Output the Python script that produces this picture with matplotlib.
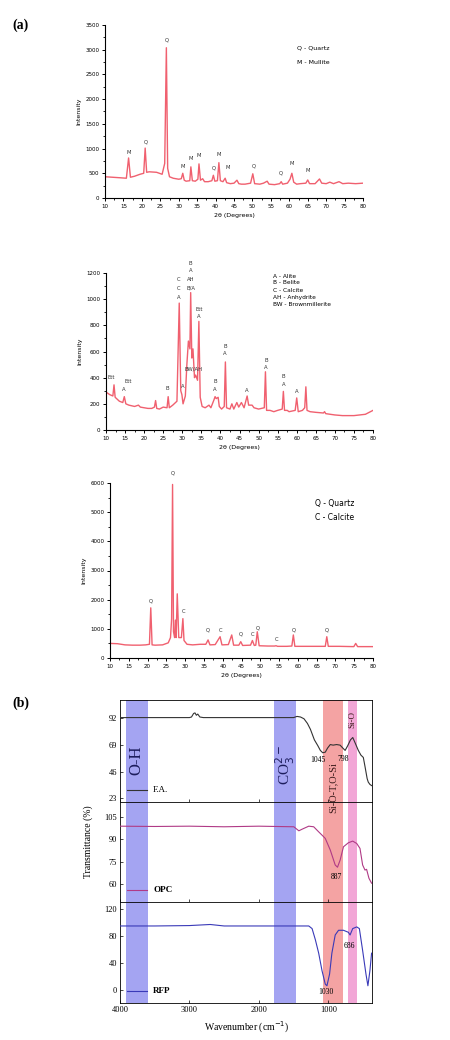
import matplotlib
matplotlib.use("Agg")
import matplotlib.pyplot as plt
from matplotlib.ticker import MultipleLocator, AutoMinorLocator

W, H = 450, 1040
fig = plt.figure(figsize=(W / 100, H / 100), dpi=100)

def rect(l, r, t, b):
    return [l / W, 1 - b / H, (r - l) / W, (b - t) / H]

def fpos(x, y):
    return x / W, 1 - y / H

RED = "#f0606f"

# ---------------- XRD data (2theta, intensity) ----------------
fa_2t = [10, 12, 14, 15.8, 16.4, 16.9, 18, 19.5, 20.5, 20.9, 21.3, 22, 24, 25.5, 26.2, 26.65, 27.0,
         27.5, 28.5, 30, 30.7, 31.1, 31.5, 32, 33, 33.3, 33.7, 34.5, 35.2, 35.5, 35.9, 36.5, 37, 38,
         39, 39.4, 39.8, 40.5, 40.9, 41.3, 42, 42.6, 43, 44, 45, 45.8, 46.3, 47, 48, 49.5, 50.1, 50.6,
         52, 53, 54, 54.5, 56, 57.4, 57.8, 58.2, 59.5, 60.2, 60.7, 61.2, 62, 63, 64.5, 65, 65.5, 67,
         68.2, 68.8, 70, 71, 72, 73.5, 74.5, 76, 78, 80]
fa_int = [430, 420, 410, 400, 810, 420, 440, 480, 500, 1010, 520, 530, 520, 480, 700, 3040, 600,
          430, 400, 380, 390, 500, 360, 340, 350, 630, 350, 340, 380, 690, 360, 390, 330, 330,
          350, 460, 340, 350, 715, 350, 330, 400, 310, 290, 300, 360, 290, 280, 280, 300, 490, 290,
          280, 300, 340, 280, 270, 290, 330, 280, 300, 380, 500, 320, 280, 290, 300, 365, 290, 290,
          385, 300, 290, 320, 290, 330, 290, 300, 290, 300]
fa_lab_2t = [16.4, 21.0, 26.65, 31.1, 33.3, 35.5, 39.4, 40.9, 43.3, 50.4, 57.8, 60.7, 65.0]
fa_lab_y = [930, 1130, 3200, 630, 790, 850, 610, 870, 610, 650, 510, 690, 550]
fa_lab_txt = ["M", "Q", "Q", "M", "M", "M", "Q", "M", "M", "Q", "Q", "M", "M"]

opc_2t = [10, 11, 11.8, 12.1, 12.4, 13.5, 14.4, 14.8, 15.2, 16, 17.5, 18.5, 19, 20, 21, 22, 22.7,
          23.0, 23.3, 24, 25, 26.0, 26.3, 26.6, 27.5, 28.6, 29.2, 29.6, 29.9, 30.2, 30.8, 31.2,
          31.6, 32.0, 32.2, 32.5, 32.8, 33.2, 33.5, 34.0, 34.35, 34.7, 35.2, 36, 37, 37.5, 38.3,
          38.6, 38.9, 39.4, 39.7, 40.3, 41.0, 41.3, 41.6, 42.5, 43, 43.5, 44.3, 44.8, 45.5, 46.2,
          47.0, 47.4, 48.3, 48.8, 50, 51.5, 51.8, 52.1, 53, 54, 55, 56.2, 56.5, 56.8, 57.5, 58,
          59.6, 60, 60.4, 61.5, 62.1, 62.4, 62.7, 63.5, 65, 67, 67.3, 67.6, 70, 72, 75, 78, 80]
opc_int = [290, 270, 260, 345, 250, 220, 210, 255, 200, 190, 180, 190, 175, 170, 165, 165, 175,
           225, 165, 160, 175, 170, 255, 170, 190, 220, 970, 300, 270, 200, 260, 500,
           680, 620, 1050, 550, 620, 400, 420, 380, 830, 250, 180, 170, 190, 170, 230,
           255, 240, 250, 180, 160, 180, 520, 170, 160, 200, 160, 210, 175, 210, 170,
           260, 190, 190, 170, 160, 170, 445, 150, 150, 140, 150, 160, 295, 150, 150, 140,
           150, 245, 140, 150, 170, 330, 150, 140, 135, 130, 140, 125, 115, 110, 110, 120, 150]
opc_lab_2t = [11.5, 14.7, 15.9, 26.2, 30.1, 29.0, 29.0, 29.0, 32.2, 32.2, 32.2, 32.2, 34.4, 34.4,
              32.9, 38.6, 38.6, 41.2, 41.2, 46.9, 51.9, 51.9, 56.5, 56.5, 60.0]
opc_lab_y = [403, 311, 369, 319, 336, 1014, 1083, 1152, 1083, 1152, 1218, 1274, 866, 922,
             464, 311, 369, 586, 642, 301, 478, 535, 350, 407, 293]
opc_lab_txt = ["Ett", "A", "Ett", "B", "A", "A", "C", "C", "B/A", "AH", "A", "B", "A", "Ett",
               "BW/AH", "A", "B", "A", "B", "A", "A", "B", "A", "B", "A"]

rfp_2t = [10, 12, 14, 16, 18, 19.5, 20.5, 20.85, 21.2, 22, 24, 25.5, 26.1, 26.4, 26.65, 26.9, 27.2,
          27.4, 27.6, 27.9, 28.3, 29.0, 29.4, 29.7, 30.5, 32, 34, 35.5, 36.1, 36.6, 38, 39.3, 39.8,
          41.5, 42.4, 42.9, 44.3, 44.8, 45.3, 47.4, 47.9, 48.4, 48.8, 49.2, 49.7, 52, 53.8, 54.2,
          54.6, 57, 58.4, 58.8, 59.2, 62, 65, 67.3, 67.7, 68.1, 71, 74.9, 75.4, 75.9, 78, 80]
rfp_int = [500, 490, 450, 440, 440, 450, 470, 1720, 450, 440, 450, 520, 700, 1350, 5950, 900, 700,
           1300, 700, 2200, 700, 700, 1350, 600, 470, 450, 470, 470, 620, 450, 460, 730, 450,
           460, 790, 440, 440, 560, 430, 440, 600, 430, 440, 900, 420, 410, 410, 420,
           400, 400, 410, 790, 400, 400, 400, 400, 730, 400, 400, 390, 500, 390, 390, 390]
rfp_lab_2t = [20.85, 26.65, 29.5, 36.1, 39.3, 44.8, 47.9, 49.2, 54.2, 58.8, 67.7]
rfp_lab_y = [1950, 6340, 1585, 960, 960, 820, 790, 1020, 650, 960, 960]
rfp_lab_txt = ["Q", "Q", "C", "Q", "C", "Q", "C", "Q", "C", "Q", "Q"]

xrd_xticks = list(range(10, 81, 5))

def style_xrd(ax, ymax, ystep):
    for s in ["top", "right"]:
        ax.spines[s].set_visible(False)
    for s in ["left", "bottom"]:
        ax.spines[s].set_linewidth(0.8)
    ax.set_xlim(10, 80)
    ax.set_ylim(0, ymax)
    ax.set_xticks(xrd_xticks)
    ax.yaxis.set_major_locator(MultipleLocator(ystep))
    ax.xaxis.set_minor_locator(AutoMinorLocator(2))
    ax.yaxis.set_minor_locator(AutoMinorLocator(2))
    ax.tick_params(which="major", length=2.5, width=0.7, labelsize=4, pad=1.5)
    ax.tick_params(which="minor", length=1.5, width=0.6)
    ax.set_ylabel("Intensity", fontsize=4.5, labelpad=3)
    ax.set_xlabel("2θ (Degrees)", fontsize=4.5, labelpad=3)

def draw_xrd(ax, xs, ys, lx, ly, lt):
    ax.plot(xs, ys, color=RED, lw=1.0)
    for x, y, t in zip(lx, ly, lt):
        ax.text(x, y, t, fontsize=3.8, ha="center", va="center", color="#333333", clip_on=False)

ax1 = fig.add_axes(rect(105, 363, 25, 198))
style_xrd(ax1, 3500, 500)
draw_xrd(ax1, fa_2t, fa_int, fa_lab_2t, fa_lab_y, fa_lab_txt)
fig.text(*fpos(297, 48), "Q - Quartz", fontsize=4.5, va="center")
fig.text(*fpos(297, 62), "M - Mullite", fontsize=4.5, va="center")

ax2 = fig.add_axes(rect(106, 373, 273, 430))
style_xrd(ax2, 1200, 200)
draw_xrd(ax2, opc_2t, opc_int, opc_lab_2t, opc_lab_y, opc_lab_txt)
for i, t in enumerate(["A - Alite", "B - Belite", "C - Calcite", "AH - Anhydrite", "BW - Brownmillerite"]):
    fig.text(*fpos(273, 276 + 7 * i), t, fontsize=4.2, va="center")

ax3 = fig.add_axes(rect(110, 373, 483, 658))
style_xrd(ax3, 6000, 1000)
draw_xrd(ax3, rfp_2t, rfp_int, rfp_lab_2t, rfp_lab_y, rfp_lab_txt)
fig.text(*fpos(315, 503), "Q - Quartz", fontsize=5.5, va="center")
fig.text(*fpos(315, 517), "C - Calcite", fontsize=5.5, va="center")

fig.text(*fpos(12, 25), "(a)", fontsize=10, fontweight="bold", family="Liberation Serif", va="center")
fig.text(*fpos(12, 703), "(b)", fontsize=10, fontweight="bold", family="Liberation Serif", va="center")

# ---------------- FTIR data (wavenumber, transmittance) ----------------
ftir_fa_wn = [4000, 3000, 2970, 2940, 2920, 2900, 2880, 2850, 2800, 1500, 1450, 1400, 1350, 1300,
              1257, 1200, 1150, 1114, 1080, 1043, 1010, 971, 930, 880, 830, 790, 757, 720, 680,
              647, 610, 567, 530, 495, 470, 440, 424, 400, 376]
ftir_fa_t = [92, 92, 92.5, 95.5, 96, 94, 95, 92.5, 92, 92, 93, 92.5, 91, 87,
             82, 73, 68, 64, 62, 62.5, 66, 69, 68.5, 69, 68.5, 66, 64, 68, 73,
             75, 70, 64, 60, 58, 50, 40, 37, 35, 34]
ftir_opc_wn = [4000, 3500, 3000, 2500, 2000, 1496, 1424, 1376, 1281, 1210, 1138, 1090, 1043, 971,
               900, 867, 829, 781, 710, 648, 590, 543, 505, 471, 448, 414, 376]
ftir_opc_t = [98.8, 98.6, 98.8, 98.4, 98.8, 98.4, 95.7, 96.8, 98.8, 98.4, 95, 92.8, 90.6, 82.8,
              72.8, 71.3, 76.1, 85, 87.7, 88.8, 87.2, 83.9, 72.8, 69.4, 69.9, 63.9, 60.6]
ftir_rfp_wn = [4000, 3500, 3000, 2700, 2500, 2000, 1500, 1281, 1233, 1186, 1138, 1090, 1043, 1019,
               981, 948, 900, 852, 781, 710, 686, 648, 590, 552, 505, 457, 429, 400, 376]
ftir_rfp_t = [95.4, 95.4, 96, 97.6, 95.4, 95.4, 95.4, 95.4, 91.5, 75, 55, 29, 9, 6.6,
              24, 55, 82, 89, 89, 86, 82, 91.5, 94, 91.5, 59, 24, 6.6, 29, 55]

bands = [(3910, 3590, "#a4a4f2"), (1781, 1461, "#a4a4f2"), (1077, 790, "#f4a3a3"), (719, 591, "#f2a6d6")]

xr = (3980, 370)
axF = fig.add_axes(rect(120, 372, 700, 802))
axO = fig.add_axes(rect(120, 372, 802, 902))
axR = fig.add_axes(rect(120, 372, 902, 1003))
serif = "Liberation Serif"
specs = [
    (axF, ftir_fa_wn, ftir_fa_t, "#333333", (20, 107), [23, 46, 69, 92], "F.A.", 790),
    (axO, ftir_opc_wn, ftir_opc_t, "#b03a86", (48, 115), [60, 75, 90, 105], "OPC", 890),
    (axR, ftir_rfp_wn, ftir_rfp_t, "#3a3ab8", (-19, 131), [0, 40, 80, 120], "RFP", 991),
]
for ax, wn, tt, col, yl, yt, name, ly in specs:
    for lo, hi, bc in bands:
        ax.axvspan(lo, hi, color=bc, lw=0, zorder=0)
    ax.plot(wn, tt, color=col, lw=0.8, zorder=3)
    ax.set_xlim(*xr)
    ax.set_ylim(*yl)
    ax.set_yticks(yt)
    ax.set_xticks([4000, 3000, 2000, 1000])
    ax.tick_params(direction="in", length=2, width=0.5, labelsize=6, pad=2)
    for lab in ax.get_yticklabels() + ax.get_xticklabels():
        lab.set_family(serif)
    for s in ax.spines.values():
        s.set_linewidth(0.6)
    if ax is not axR:
        ax.tick_params(labelbottom=False)
    lx0, ly0 = fpos(127, ly)
    lx1, _ = fpos(147, ly)
    fig.add_artist(plt.Line2D([lx0, lx1], [ly0, ly0], color=col, lw=0.8))
    fig.text(*fpos(153, ly), name, fontsize=6.5, family=serif, va="center",
             fontweight="bold" if name != "F.A." else "normal")

axR.set_xticklabels(["4000", "3000", "2000", "1000"])
fig.text(*fpos(247, 1027), "Wavenumber (cm$^{-1}$)", fontsize=7, family=serif, ha="center", va="center")
fig.text(*fpos(88, 842), "Transmittance (%)", fontsize=7, family=serif, ha="center", va="center", rotation=90)

# band captions
fig.text(*fpos(136, 760), "O-H", fontsize=12, family=serif, color="#1c1c5c", ha="center", va="center", rotation=90)
fig.text(*fpos(285, 765), "CO$_3^{2-}$", fontsize=11, family=serif, color="#1c1c5c", ha="center", va="center", rotation=90)
fig.text(*fpos(333, 788), "Si-O-T,O-Si", fontsize=7.5, family=serif, color="#3a1a1a", ha="center", va="center", rotation=90)
fig.text(*fpos(352, 720), "Si-O", fontsize=6.5, family=serif, color="#3a1a1a", ha="center", va="center", rotation=90)

# peak annotations
axF.text(1150, 56, "1045", fontsize=5.5, family=serif, ha="center", va="center")
axF.text(784, 56.5, "798", fontsize=5.5, family=serif, ha="center", va="center")
axO.text(880, 65, "887", fontsize=5.5, family=serif, ha="center", va="center")
axR.text(1030, -2, "1030", fontsize=5.5, family=serif, ha="center", va="center")
axR.text(690, 65, "686", fontsize=5.5, family=serif, ha="center", va="center")

fig.savefig("out.png", dpi=100)
